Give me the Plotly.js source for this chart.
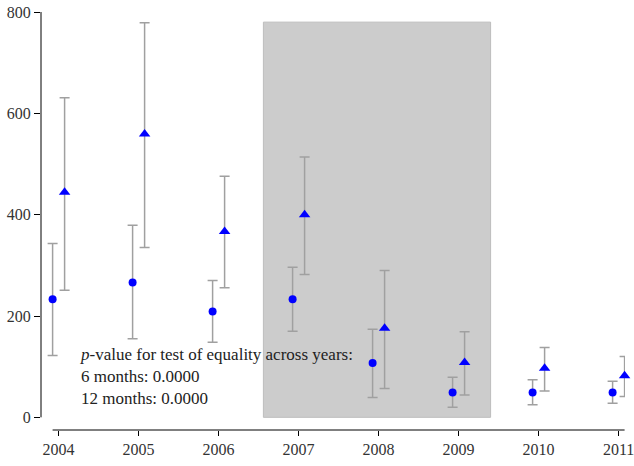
<!DOCTYPE html>
<html>
<head>
<meta charset="utf-8">
<script src="https://cdn.plot.ly/plotly-3.0.1.min.js"></script>
<style>
  html, body { margin: 0; padding: 0; background: #fff; }
  #chart { width: 634px; height: 466px; }
</style>
</head>
<body>
<div id="chart"></div>
<script>
// values
const years = [2004, 2005, 2006, 2007, 2008, 2009, 2010, 2011];

const sixMonths      = [233, 266, 209, 233, 107, 49, 49, 49];
const sixMonthsHigh  = [343, 379, 270, 296, 174, 79, 74, 71];
const sixMonthsLow   = [122, 155, 148, 170, 39, 20, 25, 28];

const twelveMonths     = [444, 559, 367, 400, 176, 108, 97, 82];
const twelveMonthsHigh = [631, 779, 476, 514, 290, 169, 138, 120];
const twelveMonthsLow  = [251, 335, 256, 282, 57, 44, 52, 41];

const pValueLines = ['<i>p</i>-value for test of equality across years:', '6 months: 0.0000', '12 months: 0.0000'];

// shaded period
const shadeFrom = 2006.56;
const shadeTo = 2009.4;
const shadeTop = 780;

const offset = 0.075;
const serif = '"Liberation Serif", "Times New Roman", serif';

function errorBars(vals, hi, lo) {
    return {
        type: 'data',
        symmetric: false,
        array: hi.map((h, i) => h - vals[i]),
        arrayminus: vals.map((v, i) => v - lo[i]),
        color: '#a0a0a0',
        thickness: 1.5,
        width: 5
    };
}

const data = [
    {
        x: years.map(y => y - offset),
        y: sixMonths,
        type: 'scatter',
        mode: 'markers',
        name: '6 months',
        cliponaxis: false,
        marker: { color: '#0000ff', size: 8, symbol: 'circle' },
        error_y: errorBars(sixMonths, sixMonthsHigh, sixMonthsLow)
    },
    {
        x: years.map(y => y + offset),
        y: twelveMonths,
        type: 'scatter',
        mode: 'markers',
        name: '12 months',
        cliponaxis: false,
        marker: { color: '#0000ff', size: 10, symbol: 'triangle-up' },
        error_y: errorBars(twelveMonths, twelveMonthsHigh, twelveMonthsLow)
    }
];

const layout = {
    width: 634,
    height: 466,
    showlegend: false,
    paper_bgcolor: '#ffffff',
    plot_bgcolor: '#ffffff',
    margin: { l: 41, r: 9, t: 12, b: 36 },
    font: { family: serif, size: 16, color: '#333333' },
    xaxis: {
        range: [2003.78, 2011.08],
        tickvals: years,
        ticktext: years.map(String),
        ticks: 'outside',
        ticklen: 5,
        tickcolor: '#000000',
        ticklabeloverflow: 'allow',
        tickfont: { family: serif, size: 16, color: '#333333' },
        showline: false,
        showgrid: false,
        zeroline: false
    },
    yaxis: {
        range: [-25, 800],
        tickvals: [0, 200, 400, 600, 800],
        ticks: 'outside',
        ticklen: 6,
        tickcolor: '#000000',
        tickfont: { family: serif, size: 16, color: '#333333' },
        showline: false,
        showgrid: false,
        zeroline: false
    },
    shapes: [
        {
            type: 'rect', layer: 'below',
            xref: 'x', yref: 'y',
            x0: shadeFrom, x1: shadeTo, y0: 0, y1: shadeTop,
            fillcolor: '#cccccc',
            line: { color: '#bdbdbd', width: 1 }
        },
        {
            // y axis line only spans the tick range
            type: 'line', xref: 'paper', yref: 'y',
            x0: 0, x1: 0, y0: 0, y1: 800,
            line: { color: '#000000', width: 1 }
        },
        {
            // x axis line spans the data range
            type: 'line', xref: 'x', yref: 'paper',
            x0: years[0] - offset, x1: years[years.length - 1] + offset, y0: 0, y1: 0,
            line: { color: '#000000', width: 1 }
        }
    ],
    annotations: [
        {
            xref: 'x', yref: 'y',
            x: 2004.24, y: 80,
            xanchor: 'left', yanchor: 'middle',
            align: 'left',
            showarrow: false,
            text: pValueLines.join('<br>'),
            font: { family: serif, size: 17, color: '#222222' }
        }
    ]
};

Plotly.newPlot('chart', data, layout, { displayModeBar: false, staticPlot: true });
</script>
</body>
</html>
